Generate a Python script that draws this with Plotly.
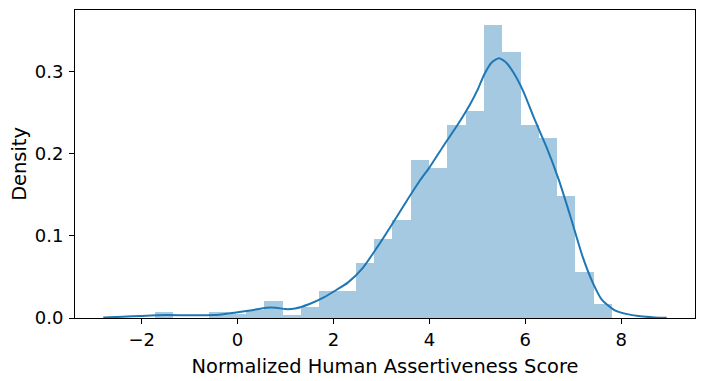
import plotly.graph_objects as go

# Histogram bins (25 equal bins) and densities
bin_start = -1.73
bin_width = 0.3816
densities = [0.0073, 0.0, 0.0, 0.0073, 0.0049, 0.0097, 0.0207, 0.0040, 0.0137,
             0.0328, 0.0328, 0.0670, 0.0960, 0.1190, 0.1920, 0.1820, 0.2345,
             0.2515, 0.3570, 0.3236, 0.2345, 0.2190, 0.1480, 0.0559, 0.0170]

# KDE curve
kde_x = [-2.8, -2.4, -2.0, -1.5, -1.0, -0.5, 0.0, 0.3, 0.6, 0.8, 1.0, 1.2, 1.5,
         1.8, 2.0, 2.3, 2.6, 2.9, 3.2, 3.5, 3.8, 4.0, 4.3, 4.6, 4.85, 5.0, 5.15,
         5.3, 5.45, 5.6, 5.75, 5.95, 6.2, 6.45, 6.7, 6.95, 7.2, 7.4, 7.6, 7.85,
         8.1, 8.4, 8.7, 8.95]
kde_y = [0.0005, 0.0015, 0.0025, 0.0035, 0.0032, 0.0035, 0.0070, 0.0095, 0.0125,
         0.0125, 0.0108, 0.0115, 0.0170, 0.0250, 0.0320, 0.0430, 0.0600, 0.0850,
         0.1120, 0.1400, 0.1670, 0.1830, 0.2100, 0.2360, 0.2600, 0.2770, 0.2970,
         0.3110, 0.3160, 0.3110, 0.2990, 0.2770, 0.2410, 0.2070, 0.1680, 0.1220,
         0.0740, 0.0440, 0.0220, 0.0100, 0.0050, 0.0020, 0.0007, 0.0003]

x_ticks = [-2, 0, 2, 4, 6, 8]
x_tick_text = ["\u22122", "0", "2", "4", "6", "8"]
y_ticks = [0.0, 0.1, 0.2, 0.3]
y_tick_text = ["0.0", "0.1", "0.2", "0.3"]

centers = [bin_start + (i + 0.5) * bin_width for i in range(len(densities))]

fig = go.Figure()
fig.add_trace(go.Bar(x=centers, y=densities, width=[bin_width] * len(densities),
                     marker=dict(color="#1f77b4", opacity=0.4, line=dict(width=0)),
                     hoverinfo="skip"))
fig.add_trace(go.Scatter(x=kde_x, y=kde_y, mode="lines",
                         line=dict(color="#1f77b4", width=2, shape="spline", smoothing=0.6)))

tick_font = dict(family="DejaVu Sans", size=18, color="black")
label_font = dict(family="DejaVu Sans", size=19.4, color="black")
fig.update_layout(
    width=705, height=381,
    margin=dict(l=75, r=10, t=10, b=63, autoexpand=False),
    paper_bgcolor="white", plot_bgcolor="white",
    showlegend=False, bargap=0, font=tick_font,
    xaxis=dict(range=[-3.39, 9.54], tickvals=x_ticks, ticktext=x_tick_text,
               ticks="outside", ticklen=5, tickcolor="black", tickwidth=1,
               showline=True, linecolor="black", linewidth=1, mirror=True,
               showgrid=False, zeroline=False, automargin=False,
               title=dict(text="Normalized Human Assertiveness Score", font=label_font, standoff=10),
               tickfont=tick_font),
    yaxis=dict(range=[0, 0.3748], tickvals=y_ticks, ticktext=y_tick_text,
               ticks="outside", ticklen=5, tickcolor="black", tickwidth=1,
               ticklabelstandoff=2,
               showline=True, linecolor="black", linewidth=1, mirror=True,
               showgrid=False, zeroline=False, automargin=False,
               title=dict(text="Density", font=label_font, standoff=2),
               tickfont=tick_font),
)

fig.write_html("out.html", config={"displayModeBar": False},
               post_script="document.body.style.margin='0';")
